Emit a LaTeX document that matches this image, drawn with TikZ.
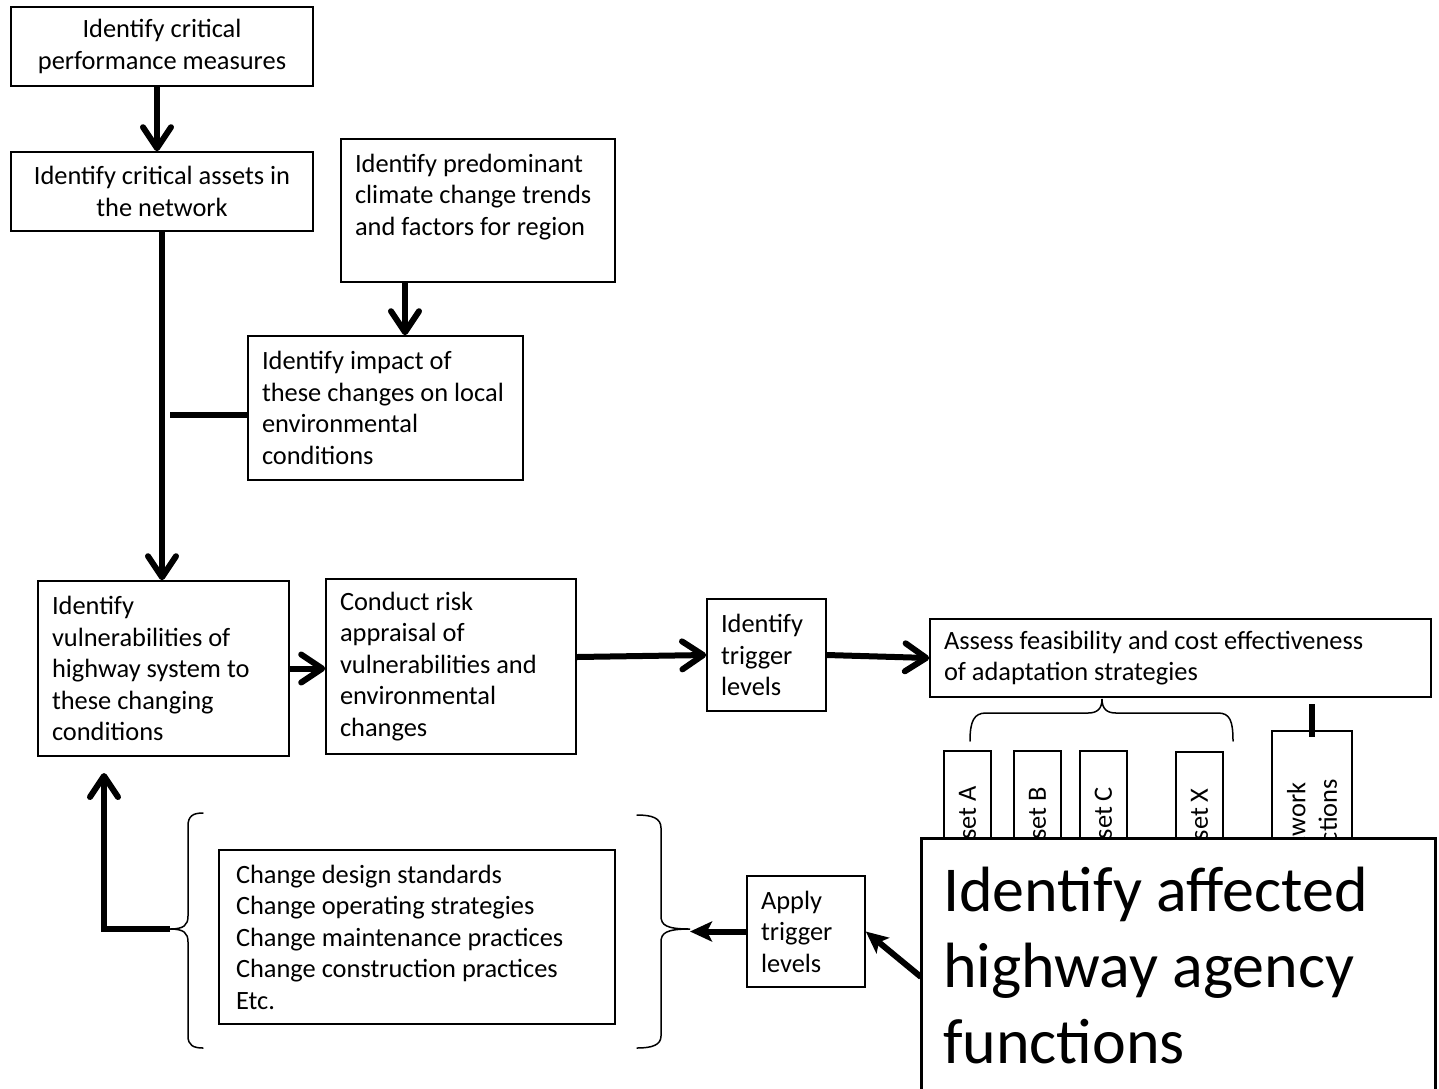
\documentclass[tikz,border=0pt]{standalone}
\usepackage{fontspec}
\setmainfont{Carlito}
\usetikzlibrary{arrows.meta}
\begin{document}
\begin{tikzpicture}[x=1pt,y=-1pt,
  every node/.style={font=\fontsize{26.4}{31.5}\selectfont},
  box/.style={draw, line width=1.6pt, inner xsep=14pt, inner ysep=0pt, align=flush left},
  vbox/.style={draw, line width=1.6pt, rotate=90, align=center, inner sep=0pt},
  flow/.style={line width=6pt, -{Straight Barb[length=21pt,width=28pt,round]}},
  solidtip/.style={line width=6pt, -{Stealth[length=22pt,width=20pt,inset=5pt]}},
  plainlink/.style={line width=6pt},
  bracket/.style={line width=1.5pt, line cap=round},
]
\useasboundingbox (0,0) rectangle (1439,1088);
\fill[white] (0,0) rectangle (1439,1088);

% process boxes
\node[box, text width=274pt, align=flush center, minimum height=79pt] (a) at (162,46.5) {Identify critical\\performance measures};
\node[box, text width=274pt, align=flush center, minimum height=79pt] (b) at (162,191.5) {Identify critical assets in\\the network};
\node[box, text width=246pt, minimum height=143pt] (c) at (478,210.5) {Identify predominant\\climate change trends\\and factors for region\\\mbox{}};
\node[box, text width=247pt, minimum height=144pt] (d) at (385.5,408) {Identify impact of\\these changes on local\\environmental\\conditions};
\node[box, text width=223pt, minimum height=175pt] (e) at (163.5,668.5) {Identify\\vulnerabilities of\\highway system to\\these changing\\conditions};
\node[box, text width=222pt, minimum height=175pt] (f) at (451,666.5) {Conduct risk\\appraisal of\\vulnerabilities and\\environmental\\changes};
\node[box, text width=91pt, minimum height=112pt] (g) at (766.5,655) {Identify\\trigger\\levels};
\node[box, text width=473pt, minimum height=78pt] (h) at (1180.5,658) {Assess feasibility and cost effectiveness\\of adaptation strategies};

% asset columns (partly hidden behind the agency box)
\node[vbox, minimum width=150pt, minimum height=47pt] (asa) at (967.5,826) {Asset A};
\node[vbox, minimum width=150pt, minimum height=47pt] (asb) at (1037.5,826) {Asset B};
\node[vbox, minimum width=150pt, minimum height=47pt] (asc) at (1103.5,826) {Asset C};
\node[vbox, minimum width=150pt, minimum height=47pt] (asx) at (1199.5,827) {Asset X};
\node[vbox, minimum width=196pt, minimum height=80pt] (nf) at (1312,829) {Network\\functions};

% lower row
\node[box, text width=90pt, minimum height=111pt] (j) at (806,931.5) {Apply\\trigger\\levels};
\node[box, inner xsep=17pt, text width=362pt, minimum height=174pt] (k) at (417,937) {Change design standards\\Change operating strategies\\Change maintenance practices\\Change construction practices\\Etc.};

\node[box, line width=3pt, fill=white, inner xsep=22pt, text width=470pt, minimum height=254pt,
      font=\fontsize{64}{76}\selectfont] (i) at (1178,965) {Identify affected\\highway agency\\functions};

% free ends of connectors
\coordinate (dstub) at (170,415);
\coordinate (ifoot) at (921,977);
\coordinate (rtip) at (690,929);
\coordinate (ltip) at (170,929);
\coordinate (loopup) at (104,773);

% connectors
\draw[flow] ([xshift=-5pt]a.south) -- ([xshift=-5pt]a.south |- b.north);
\draw[flow] (b.south) -- (b.south |- e.north);
\draw[flow] ([xshift=-73pt]c.south) -- ([xshift=-73pt]c.south |- d.north);
\draw[plainlink] ([yshift=-7pt]d.west) -- (dstub);
\draw[flow] (e.east) -- (e.east -| f.west);
\draw[flow] ([yshift=9.5pt]f.east) -- (g.west);
\draw[flow] (g.east) -- (h.west);
\draw[plainlink] ([yshift=26pt]nf.east) -- ([yshift=-7pt]nf.east);
\draw[solidtip] (ifoot) -- (j.east);
\draw[solidtip] (j.west) -- (j.west -| rtip);
\draw[flow] (ltip) -| (loopup);

% braces
\draw[bracket] (970,741) .. controls (970,721) and (974,713) .. (986,713) -- (1088,713)
  .. controls (1097,713) and (1102,709) .. (1102,699)
  .. controls (1102,709) and (1107,713) .. (1116,713) -- (1218,713)
  .. controls (1230,713) and (1233,721) .. (1233,741);
\draw[bracket] (203,813) .. controls (193,813) and (188,816) .. (188,826) -- (188,916)
  .. controls (188,925) and (184,929) .. (ltip)
  .. controls (184,929) and (188,933) .. (188,942) -- (188,1036)
  .. controls (188,1045) and (193,1048) .. (203,1048);
\draw[bracket] (637,815) .. controls (652,815) and (661,818) .. (661,828) -- (661,916)
  .. controls (661,925) and (666,929) .. (rtip)
  .. controls (666,929) and (661,933) .. (661,942) -- (661,1036)
  .. controls (661,1045) and (652,1048) .. (637,1048);
\end{tikzpicture}
\end{document}
